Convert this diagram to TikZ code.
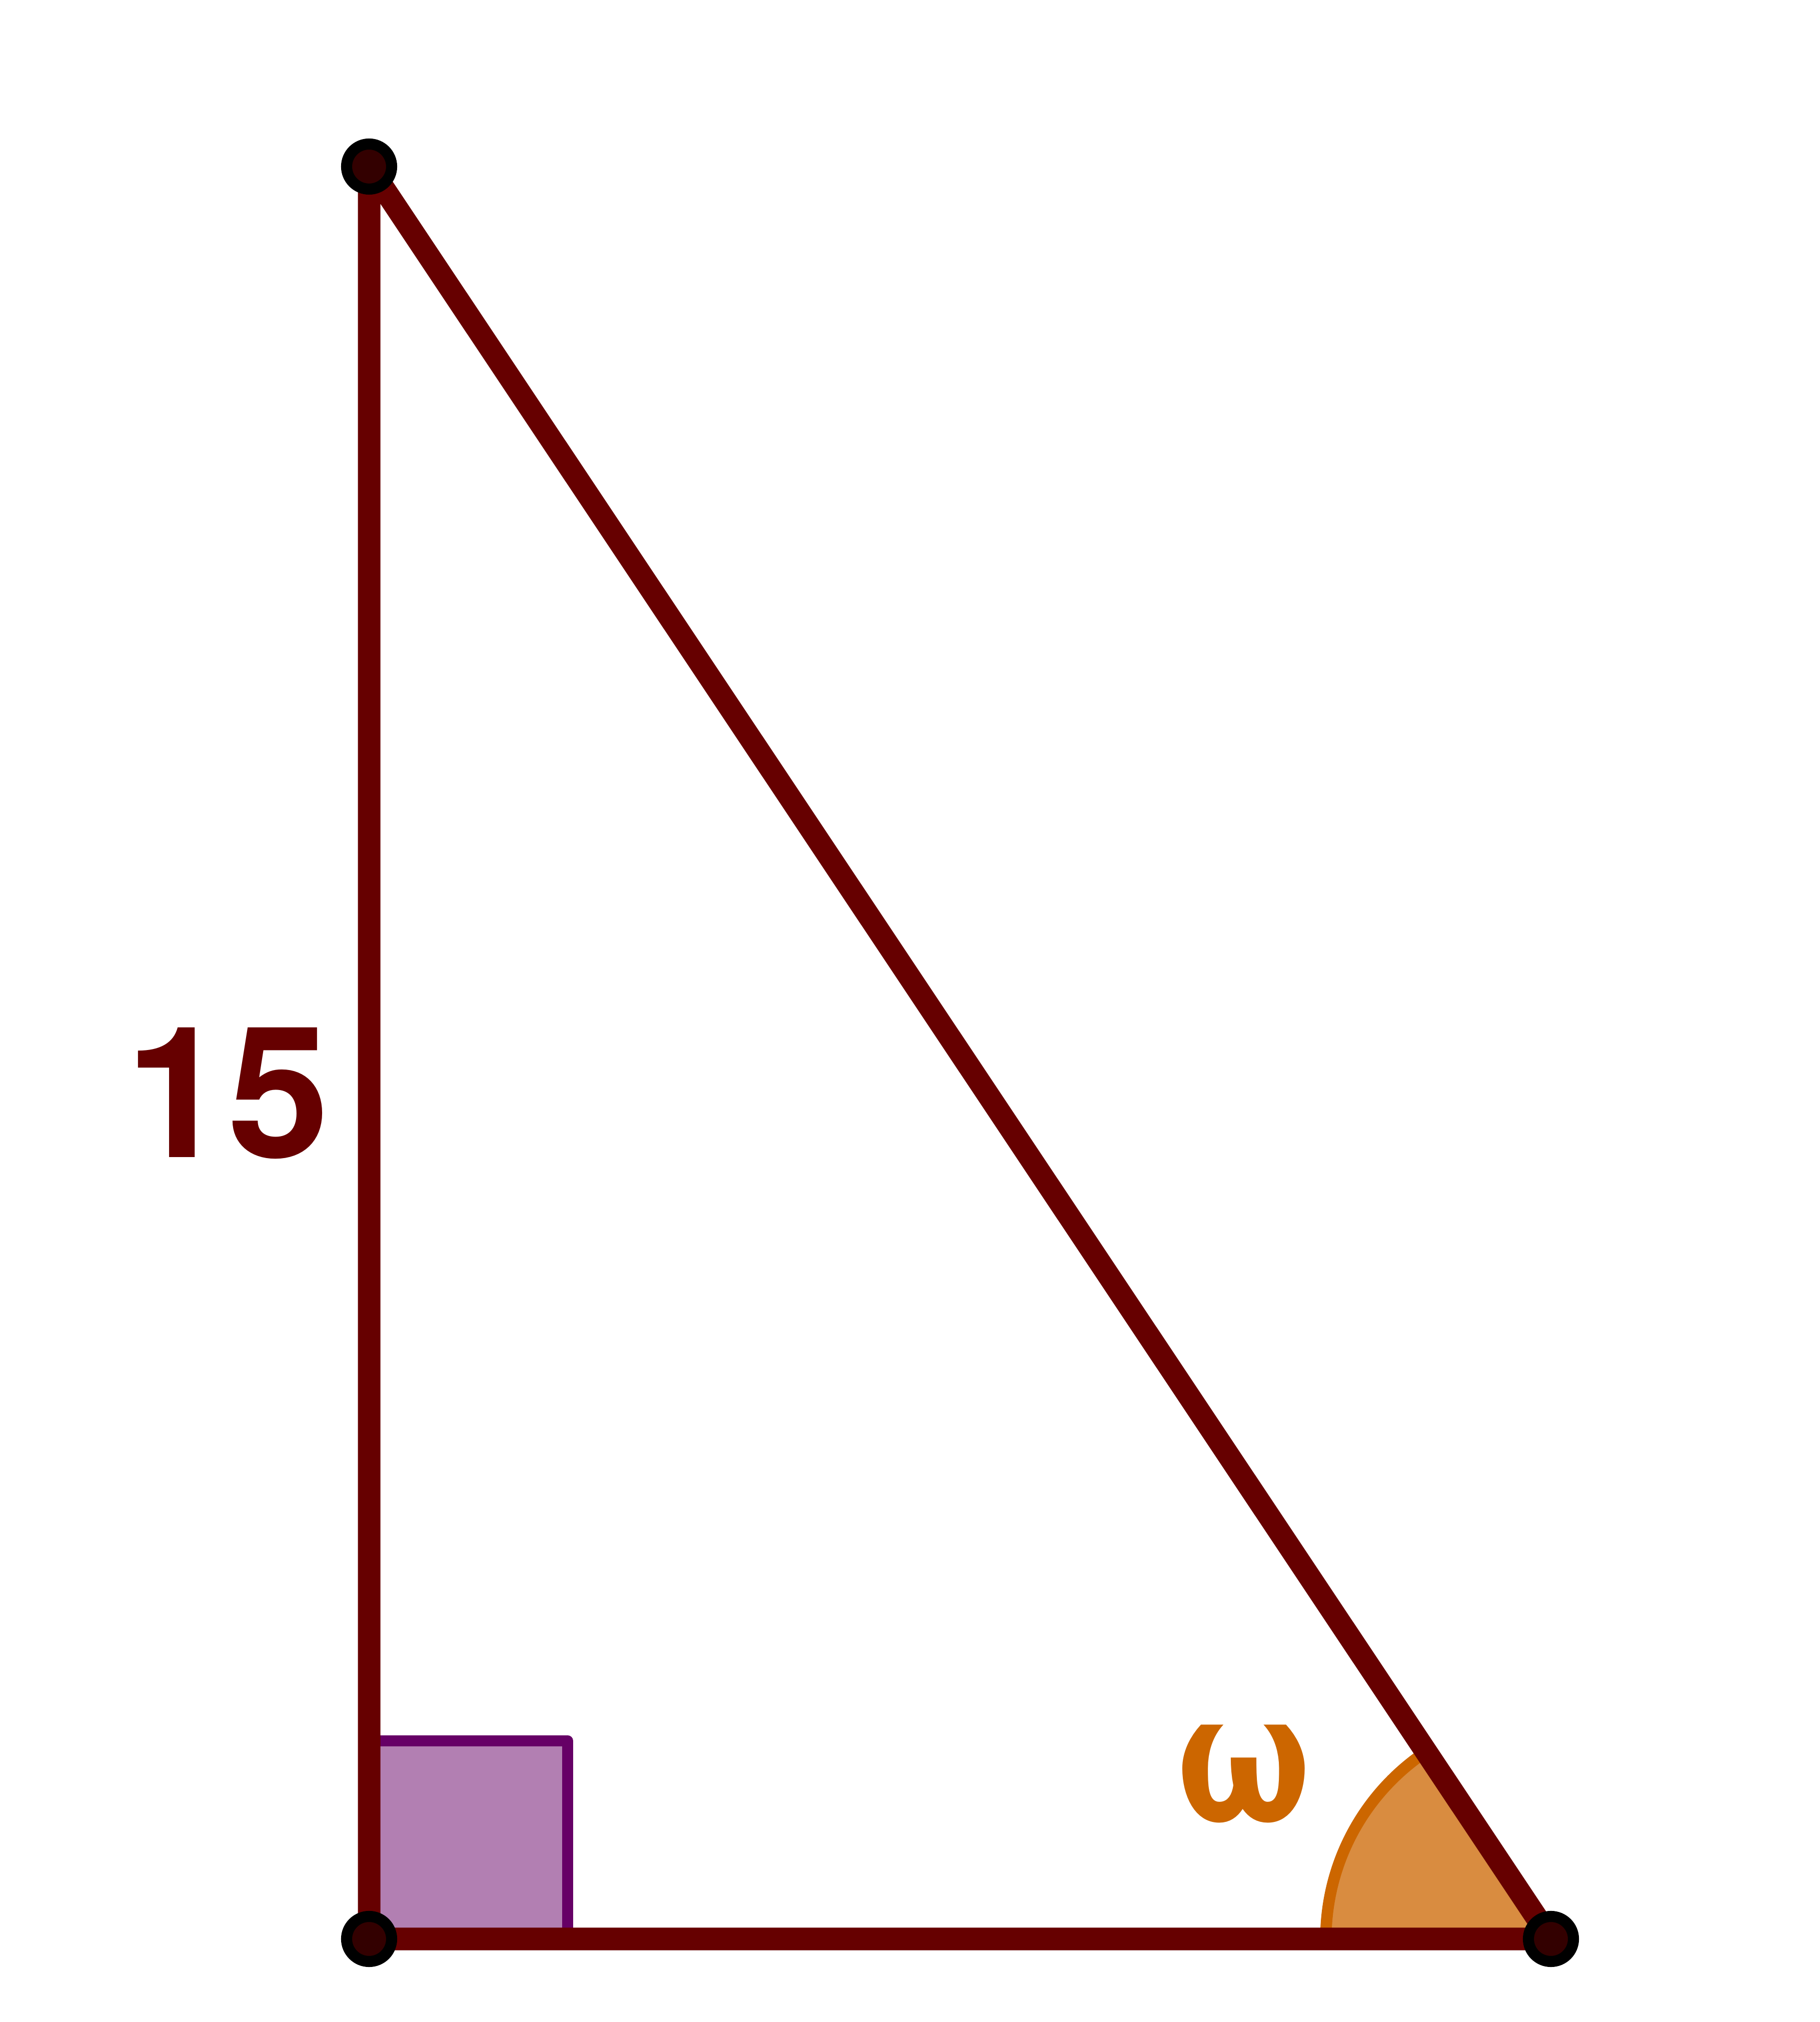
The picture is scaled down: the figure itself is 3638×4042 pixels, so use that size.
\documentclass[tikz,border=0pt]{standalone}
\usepackage{fontspec}
\setmainfont{TeX Gyre Heros}
\begin{document}
\begin{tikzpicture}[x=0.01cm,y=0.01cm,
  side/.style={draw=tri,line width=12.8pt,line join=round},
  vertex/.style={circle,draw=black,fill=ptfill,line width=6.3pt,minimum size=0.9cm,inner sep=0pt},
  rightmark/.style={draw=sqline,fill=sqline,fill opacity=0.5,line width=6.3pt,line join=round},
  anglemark/.style={fill=angcol,fill opacity=0.75},
  anglearc/.style={draw=angcol,line width=6.5pt},
  lbl/.style={font=\fontsize{104}{120}\selectfont\bfseries,inner sep=0pt}]
\definecolor{tri}{HTML}{660000}
\definecolor{ptfill}{HTML}{330000}
\definecolor{sqline}{HTML}{660066}
\definecolor{angcol}{HTML}{CC6600}
\useasboundingbox (0,0) rectangle (3638,4042);
\coordinate (A) at (738,3709);
\coordinate (B) at (738,166);
\coordinate (C) at (3101,166);
% right angle mark
\path[rightmark] (B) rectangle (1135,562);
% angle mark at C
\path[anglemark] (C) -- ++(180:450) arc[start angle=180,end angle=123.7,radius=450] -- cycle;
\draw[anglearc] (C) ++(180:450) arc[start angle=180,end angle=123.7,radius=450];
% sides
\draw[side] (A) -- (B) -- (C) -- cycle;
% vertices
\node[vertex] (pA) at (A) {};
\node[vertex] (pB) at (B) {};
\node[vertex] (pC) at (C) {};
% labels
\node[lbl,text=tri] (l15) at (455,1856) {15};
\node[lbl,text=angcol] (lw) at (2487,495) {ω};
\end{tikzpicture}
\end{document}
